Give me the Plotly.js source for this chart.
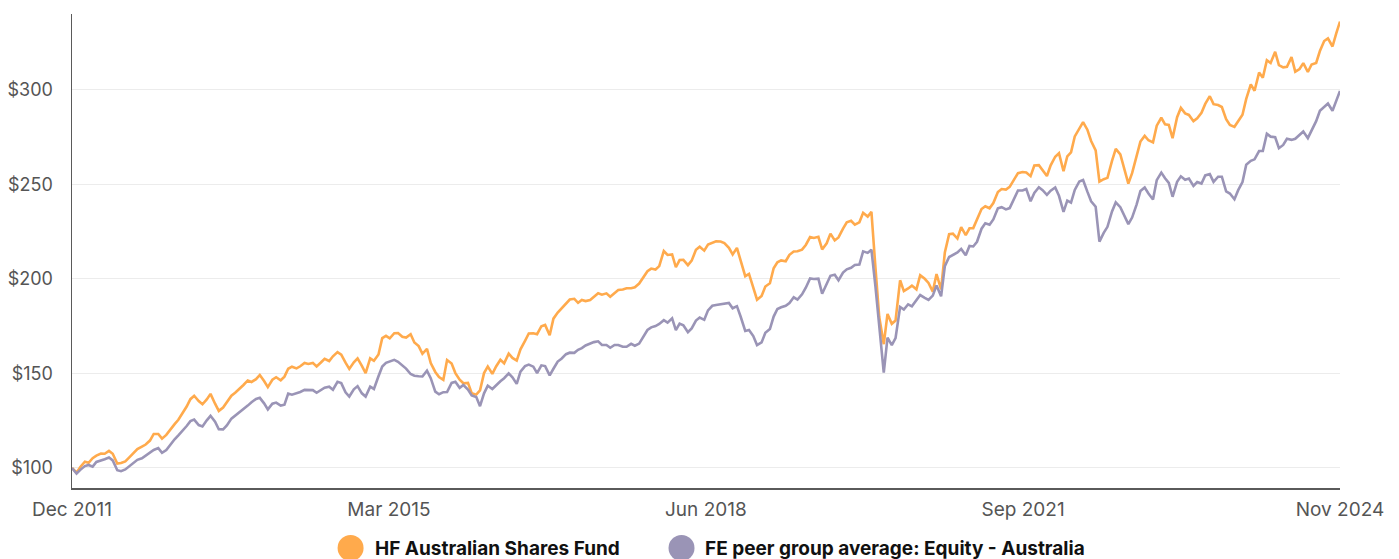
<!DOCTYPE html>
<html>
<head>
<meta charset="utf-8">
<script src="https://cdn.plot.ly/plotly-3.0.1.min.js"></script>
<style>
  html, body { margin: 0; padding: 0; background: #ffffff; }
  #chart { width: 1399px; height: 559px; }
</style>
</head>
<body>
<div id="chart"></div>
<script>
// Series names
const seriesNames = ["HF Australian Shares Fund", "FE peer group average: Equity - Australia"];

// Observation dates (semi-monthly)
const dates = [
  "2011-12-15",
  "2012-01-01","2012-01-15","2012-02-01","2012-02-15","2012-03-01","2012-03-15","2012-04-01","2012-04-15","2012-05-01","2012-05-15","2012-06-01","2012-06-15","2012-07-01","2012-07-15","2012-08-01","2012-08-15","2012-09-01","2012-09-15","2012-10-01","2012-10-15","2012-11-01","2012-11-15","2012-12-01","2012-12-15",
  "2013-01-01","2013-01-15","2013-02-01","2013-02-15","2013-03-01","2013-03-15","2013-04-01","2013-04-15","2013-05-01","2013-05-15","2013-06-01","2013-06-15","2013-07-01","2013-07-15","2013-08-01","2013-08-15","2013-09-01","2013-09-15","2013-10-01","2013-10-15","2013-11-01","2013-11-15","2013-12-01","2013-12-15",
  "2014-01-01","2014-01-15","2014-02-01","2014-02-15","2014-03-01","2014-03-15","2014-04-01","2014-04-15","2014-05-01","2014-05-15","2014-06-01","2014-06-15","2014-07-01","2014-07-15","2014-08-01","2014-08-15","2014-09-01","2014-09-15","2014-10-01","2014-10-15","2014-11-01","2014-11-15","2014-12-01","2014-12-15",
  "2015-01-01","2015-01-15","2015-02-01","2015-02-15","2015-03-01","2015-03-15","2015-04-01","2015-04-15","2015-05-01","2015-05-15","2015-06-01","2015-06-15","2015-07-01","2015-07-15","2015-08-01","2015-08-15","2015-09-01","2015-09-15","2015-10-01","2015-10-15","2015-11-01","2015-11-15","2015-12-01","2015-12-15",
  "2016-01-01","2016-01-15","2016-02-01","2016-02-15","2016-03-01","2016-03-15","2016-04-01","2016-04-15","2016-05-01","2016-05-15","2016-06-01","2016-06-15","2016-07-01","2016-07-15","2016-08-01","2016-08-15","2016-09-01","2016-09-15","2016-10-01","2016-10-15","2016-11-01","2016-11-15","2016-12-01","2016-12-15",
  "2017-01-01","2017-01-15","2017-02-01","2017-02-15","2017-03-01","2017-03-15","2017-04-01","2017-04-15","2017-05-01","2017-05-15","2017-06-01","2017-06-15","2017-07-01","2017-07-15","2017-08-01","2017-08-15","2017-09-01","2017-09-15","2017-10-01","2017-10-15","2017-11-01","2017-11-15","2017-12-01","2017-12-15",
  "2018-01-01","2018-01-15","2018-02-01","2018-02-15","2018-03-01","2018-03-15","2018-04-01","2018-04-15","2018-05-01","2018-05-15","2018-06-01","2018-06-15","2018-07-01","2018-07-15","2018-08-01","2018-08-15","2018-09-01","2018-09-15","2018-10-01","2018-10-15","2018-11-01","2018-11-15","2018-12-01","2018-12-15",
  "2019-01-01","2019-01-15","2019-02-01","2019-02-15","2019-03-01","2019-03-15","2019-04-01","2019-04-15","2019-05-01","2019-05-15","2019-06-01","2019-06-15","2019-07-01","2019-07-15","2019-08-01","2019-08-15","2019-09-01","2019-09-15","2019-10-01","2019-10-15","2019-11-01","2019-11-15","2019-12-01","2019-12-15",
  "2020-01-01","2020-01-15","2020-02-01","2020-02-15","2020-03-01","2020-03-15","2020-04-01","2020-04-15","2020-05-01","2020-05-15","2020-06-01","2020-06-15","2020-07-01","2020-07-15","2020-08-01","2020-08-15","2020-09-01","2020-09-15","2020-10-01","2020-10-15","2020-11-01","2020-11-15","2020-12-01","2020-12-15",
  "2021-01-01","2021-01-15","2021-02-01","2021-02-15","2021-03-01","2021-03-15","2021-04-01","2021-04-15","2021-05-01","2021-05-15","2021-06-01","2021-06-15","2021-07-01","2021-07-15","2021-08-01","2021-08-15","2021-09-01","2021-09-15","2021-10-01","2021-10-15","2021-11-01","2021-11-15","2021-12-01","2021-12-15",
  "2022-01-01","2022-01-15","2022-02-01","2022-02-15","2022-03-01","2022-03-15","2022-04-01","2022-04-15","2022-05-01","2022-05-15","2022-06-01","2022-06-15","2022-07-01","2022-07-15","2022-08-01","2022-08-15","2022-09-01","2022-09-15","2022-10-01","2022-10-15","2022-11-01","2022-11-15","2022-12-01","2022-12-15",
  "2023-01-01","2023-01-15","2023-02-01","2023-02-15","2023-03-01","2023-03-15","2023-04-01","2023-04-15","2023-05-01","2023-05-15","2023-06-01","2023-06-15","2023-07-01","2023-07-15","2023-08-01","2023-08-15","2023-09-01","2023-09-15","2023-10-01","2023-10-15","2023-11-01","2023-11-15","2023-12-01","2023-12-15",
  "2024-01-01","2024-01-15","2024-02-01","2024-02-15","2024-03-01","2024-03-15","2024-04-01","2024-04-15","2024-05-01","2024-05-15","2024-06-01","2024-06-15","2024-07-01","2024-07-15","2024-08-01","2024-08-15","2024-09-01","2024-09-15","2024-10-01","2024-10-15","2024-11-01","2024-11-15",
  "2024-11-29"
];

// HF Australian Shares Fund (growth of $100)
const hfValues = [
  100,
  97.5,100.5, 103.3,102.7, 105.2,106.5, 107.6,107.5, 109.0,107.5, 102.3,102.6, 103.5,105.5, 108,110, 111.3,112.4, 114.5,118, 118,115.5, 117.5,120.3,
  123.2,125.5, 129.2,132.5, 136.4,138.2, 135.4,133.7, 136.3,139.2, 134,130.2, 132,135, 138.2,139.8, 141.9,143.9, 146.3,145.5, 147,149.2, 146,142.8,
  146.7,148, 146.4,148.3, 152.5,153.6, 152.7,153.8, 155.6,155, 155.6,153.7, 155.8,157.8, 156.6,159.1, 161.3,160, 155.7,152.4, 155.9,158, 154,150.2,
  158,156.7, 160,168.7, 169.9,168.6, 171.3,171.4, 169.4,169, 170.8,166.4, 164.5,160.4, 163,155.5, 150.8,148.1, 146.6,157.1, 155.3,150.2, 146.7,144.8,
  145,139.5, 138.8,141.1, 150.2,153.7, 149.8,153.7, 157.2,155.4, 160.5,158.2, 156.8,162.8, 167.3,171.2, 171.3,170.8, 175,175.7, 170.2,179, 182.2,184.3,
  187.1,189.1, 189.5,187.4, 188.9,188.3, 188.9,190.5, 192.4,191.7, 192.4,190.6, 192.4,194.2, 194.4,195.1, 195.1,195.6, 197.6,200.4, 204.1,205.5, 205,206.8,
  214.8,212.7, 213,206.2, 210,210.1, 207.3,209.7, 215.4,217.1, 215,218.2, 219.2,219.9, 219.8,219, 216.5,213, 216.4,209.6, 201.5,202.7, 194.7,189,
  191,196, 197.7,205.7, 208.8,209.8, 209.4,212.8, 214.5,214.7, 215.5,218, 222.2,221.7, 222.3,215.6, 218.9,224, 220.4,222, 226.6,230, 230.8,228.7,
  230,235, 233,235.5, 206,180, 165.5,181.5, 176.3,178, 199.3,193.6, 195,196.5, 194.5,202, 200.1,197.9, 193.3,202.6, 194.5,214, 223.7,224,
  221.4,227.4, 223.2,226.8, 226.9,231.7, 237,238.5, 237.4,240.2, 246,247.6, 247.3,248.7, 253,256, 256.6,256.3, 254.4,260, 260.2,257.5, 254.5,260.1,
  264.7,266.5, 257,264.9, 267,275.4, 280,283, 279,273, 268,251.5, 252.8,253.5, 262.5,268.8, 265.9,258.6, 250.5,256, 265,272.7, 275.7,273.4,
  272.3,281.1, 285.3,281.8, 281.5,274.5, 285.6,290.5, 287.6,286.8, 283.5,285, 287.9,292.6, 296.7,292.5, 292,291, 284.6,281.5, 280.5,283.4, 286.9,295.3,
  303,299.6, 309.2,306.5, 315.7,314.3, 320.2,313.2, 312,312.3, 317.4,309.7, 311.1,314.2, 309.5,313.5, 314.3,320.6, 325.9,327.3, 323,330,
  336.2
];

// FE peer group average: Equity - Australia (growth of $100)
const peerValues = [
  100,
  97,99, 101,101.6, 100.7,103.2, 103.8,104.6, 105.5,104, 98.8,98.3, 99.2,100.7, 102.5,104.3, 105.1,106.4, 108,109.5, 110.5,108, 109.5,112.3,
  115.2,117.3, 119.7,122.2, 124.8,125.6, 122.7,122, 125.2,127.6, 124.5,120.5, 120.4,122.5, 126.1,127.7, 129.4,130.8, 133,134.8, 136.5,137.1, 134.2,131,
  134,134.6, 133,133.5, 139.4,138.8, 139.4,140.2, 141.3,141.4, 141.2,139.8, 141.4,142.5, 143,141.4, 145.6,144.9, 140,137.8, 141.6,143.3, 139.5,137.8,
  143,141.8, 148.5,153.7, 155.6,156.2, 157.2,156.2, 154,152.6, 149.7,148.8, 148.5,148.4, 151.5,147.5, 140.4,139, 140.1,140.2, 145,145.6, 142.4,143.9,
  141.5,138.4, 137.5,132.7, 139.5,143.5, 141.8,143.8, 145.9,147.5, 150,148, 144.5,151, 153.9,154.7, 153.6,150.2, 154.3,153.9, 149,152.5, 156.3,157.8,
  160.2,161, 160.9,162.5, 163.4,164.8, 165.7,166.6, 167,165.1, 165.1,163.6, 165.1,165.1, 164.1,164.1, 165.7,164.7, 165.8,169, 173,174.4, 175.1,176.2,
  178.2,176.9, 179.2,172.9, 176.4,175.5, 171.8,173.8, 178,179.6, 178.4,183.4, 185.8,186.2, 186.6,186.8, 187.3,184.5, 185.6,180, 172.5,173, 169.8,165,
  166.4,171.5, 173.5,180.1, 184.1,185, 185.8,187.3, 190.3,189.1, 191.9,195.4, 200.3,200, 200.2,192.2, 197.7,201.7, 202.2,199.3, 203.4,205.1, 205.9,207.4,
  207.6,214.6, 213.8,215.5, 196,175, 150.5,169, 165,168.7, 185.2,183.8, 186.6,185.5, 189,191.5, 190,188.9, 191.2,196.6, 190.8,206.8, 211.6,212.5,
  214,215.9, 212.5,217.5, 217.2,219.7, 226.6,229.5, 228.7,231.5, 237.4,238, 236.8,237.5, 242.6,246.8, 246.8,247.6, 241.1,245.5, 248.5,247, 244.5,246.7,
  248.4,244, 235.5,241.5, 240.4,247.1, 251.6,252.4, 246.2,241.1, 238.2,219.8, 224.4,227.6, 235.7,240.5, 238,233.5, 229,232.5, 239.5,246.5, 248.4,245.2,
  242,252.3, 256.3,253.3, 250.8,243.5, 251.4,254.3, 252.5,253.1, 249.2,251.3, 250.5,254.8, 255.5,251.4, 254.1,254.1, 246.3,245.2, 242.2,247, 251.3,260.5,
  262.5,263.3, 267.7,267.7, 276.8,275.3, 275,269.2, 270.9,274.2, 273.6,274.2, 276.3,278, 274.5,278.4, 283.5,289, 291.3,292.8, 289,294.1,
  299.5
];

// Axis ticks
const xTickVals = ["2011-12-15", "2015-03-12", "2018-06-07", "2021-09-03", "2024-11-29"];
const xTickText = ["Dec 2011", "Mar 2015", "Jun 2018", "Sep 2021", "Nov 2024"];
const yTickVals = [100, 150, 200, 250, 300];
const yTickText = ["$100", "$150", "$200", "$250", "$300"];

const colors = ["#FFAA4C", "#9A94B6"];
const FONT = "Inter, 'Noto Sans', 'DejaVu Sans', sans-serif";

const traces = [
  { type: "scatter", mode: "lines", name: seriesNames[0], x: dates, y: hfValues,
    line: { color: colors[0], width: 2.6 }, hoverinfo: "skip", showlegend: false },
  { type: "scatter", mode: "lines", name: seriesNames[1], x: dates, y: peerValues,
    line: { color: colors[1], width: 2.6 }, hoverinfo: "skip", showlegend: false }
];

// Legend built from shapes + annotations (large dots, bold labels)
const legendY = -0.1266;
const legendDotX = [0.2197, 0.4807];
const legendTextX = [0.2370, 0.4980];
const shapes = seriesNames.map((n, i) => ({
  type: "circle", xref: "paper", yref: "paper",
  xsizemode: "pixel", ysizemode: "pixel",
  xanchor: legendDotX[i], yanchor: legendY,
  x0: -13, x1: 13, y0: -13, y1: 13,
  fillcolor: colors[i], line: { width: 0 }
}));
const annotations = seriesNames.map((n, i) => ({
  text: n, xref: "paper", yref: "paper", x: legendTextX[i], y: legendY,
  xanchor: "left", yanchor: "middle", showarrow: false,
  font: { family: FONT, size: 19, color: "#111111", weight: 700 }
}));

const layout = {
  width: 1399, height: 559,
  margin: { l: 72, r: 59, t: 14, b: 71, pad: 0 },
  paper_bgcolor: "#ffffff", plot_bgcolor: "#ffffff",
  showlegend: false,
  font: { family: FONT, size: 18, color: "#555555" },
  xaxis: {
    type: "date", range: ["2011-12-15", "2024-11-29"],
    tickmode: "array", tickvals: xTickVals, ticktext: xTickText,
    showgrid: false, zeroline: false,
    showline: true, linecolor: "#5a5a5a", linewidth: 1.5,
    ticks: "", ticklabelstandoff: 4,
    tickfont: { family: FONT, size: 19, color: "#555555" },
    fixedrange: true
  },
  yaxis: {
    range: [89.4, 340.2],
    tickmode: "array", tickvals: yTickVals, ticktext: yTickText,
    showgrid: true, gridcolor: "#ececec", gridwidth: 1,
    zeroline: false,
    showline: true, linecolor: "#5a5a5a", linewidth: 1.5,
    ticks: "", ticklabelstandoff: 14,
    tickfont: { family: FONT, size: 18, color: "#555555" },
    fixedrange: true
  },
  shapes: shapes,
  annotations: annotations
};

Plotly.newPlot("chart", traces, layout, { displayModeBar: false, staticPlot: true });
</script>
</body>
</html>
